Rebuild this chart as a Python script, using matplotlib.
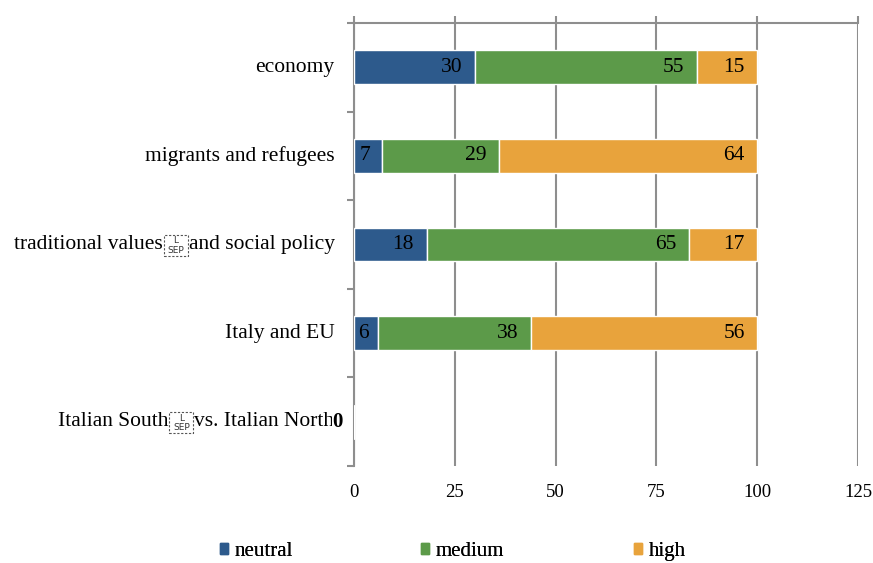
import matplotlib
matplotlib.use("Agg")
import matplotlib.pyplot as plt
from matplotlib.patches import Patch, Rectangle
import numpy as np

plt.rcParams["font.family"] = ["Liberation Serif", "DejaVu Serif"]

# Share of coverage per topic, by intensity level
categories = [
    "economy",
    "migrants and refugees",
    "traditional values\u2028and social policy",
    "Italy and EU",
    "Italian South\u2028vs. Italian North",
]
neutral = [30, 7, 18, 6, 0]
medium = [55, 29, 65, 38, 0]
high = [15, 64, 17, 56, 0]
series_names = ["neutral", "medium", "high"]
x_ticks = [0, 25, 50, 75, 100, 125]

colors = ["#2d5a8c", "#5c9a49", "#e8a33c"]
grid_color = "#8e8e8e"

fig = plt.figure(figsize=(8.73, 5.63), dpi=100)
ax = fig.add_axes([354 / 873, 1 - 466 / 563, 504 / 873, 443 / 563])

y = np.arange(len(categories))
series = [neutral, medium, high]
left = np.zeros(len(categories))
bar_height = 0.38
for vals, name, col in zip(series, series_names, colors):
    vals = np.array(vals, dtype=float)
    ax.barh(y, vals, left=left, height=bar_height, color=col,
            edgecolor="white", linewidth=1.0, label=name, zorder=3)
    for i, (v, l0) in enumerate(zip(vals, left)):
        if v == 0:
            continue
        if v < 10:
            ax.text(l0 + v * 0.4, i, f"{v:g}", ha="center", va="center",
                    fontsize=15.5, zorder=4)
        else:
            ax.annotate(f"{v:g}", xy=(l0 + v, i), xytext=(-9, 0),
                        textcoords="offset points", ha="right", va="center",
                        fontsize=15.5, zorder=4)
    left += vals

# zero value of the last topic sits next to the axis
ax.annotate(f"{neutral[-1]:g}", xy=(0, 4), xytext=(-12, 0),
            textcoords="offset points", ha="center", va="center",
            fontsize=15, fontweight="bold", zorder=6,
            bbox=dict(boxstyle="square,pad=0.0", fc="white", ec="none"),
            annotation_clip=False)

ax.set_xlim(0, 125)
ax.set_ylim(len(categories) - 0.5, -0.5)
ax.set_xticks(x_ticks)
ax.set_xticklabels([str(t) for t in x_ticks], fontsize=13.5)
ax.tick_params(axis="x", top=True, bottom=False, labeltop=False,
               labelbottom=True, direction="out", length=5, width=1.5,
               color=grid_color, pad=8)
ax.set_yticks(y)
ax.set_yticklabels([])
ax.tick_params(axis="y", which="major", length=0)
ax.set_yticks(np.arange(-0.5, len(categories)), minor=True)
ax.tick_params(axis="y", which="minor", direction="out", length=5,
               width=1.5, color=grid_color)

ax.grid(axis="x", color=grid_color, linewidth=1.5)
ax.set_axisbelow(True)
for side in ["right", "bottom"]:
    ax.spines[side].set_visible(False)
for side in ["left", "top"]:
    ax.spines[side].set_color(grid_color)
    ax.spines[side].set_linewidth(1.5)

# category labels; the separator character is shown as a small marker box
fig.canvas.draw()
renderer = fig.canvas.get_renderer()
to_fig = fig.transFigure.inverted()
for i, label in enumerate(categories):
    parts = label.split("\u2028")
    t = ax.annotate(parts[-1], xy=(0, i), xycoords=ax.get_yaxis_transform(),
                    xytext=(-14, 0), textcoords="offset points",
                    ha="right", va="center", fontsize=15.5,
                    annotation_clip=False)
    for prev in reversed(parts[:-1]):
        fig.canvas.draw()
        bb = t.get_window_extent(renderer)
        box_w, box_h = 24, 21
        x1 = bb.x0 - 1
        x0 = x1 - box_w
        yc = (bb.y0 + bb.y1) / 2 - 1
        (fx0, fy0) = to_fig.transform((x0, yc - box_h / 2))
        (fx1, fy1) = to_fig.transform((x1, yc + box_h / 2))
        fig.patches.append(Rectangle((fx0, fy0), fx1 - fx0, fy1 - fy0,
                                     transform=fig.transFigure, fill=False,
                                     ec="#555555", lw=0.8, ls=(0, (2, 1.5))))
        fig.text((fx0 + fx1) / 2, fy0 + (fy1 - fy0) * 0.72, "L",
                 ha="center", va="center", fontsize=6.5,
                 family="DejaVu Sans", color="#333333")
        fig.text((fx0 + fx1) / 2, fy0 + (fy1 - fy0) * 0.27, "SEP",
                 ha="center", va="center", fontsize=6.5,
                 family="DejaVu Sans", color="#333333")
        t = fig.text(fx0 - 1 / 873, (fy0 + fy1) / 2 + 1 / 563, prev,
                     ha="right", va="center", fontsize=15.5)

# legend: one entry per series, spread along the bottom edge
legend_x = [220, 421, 634]
for c, n, lx in zip(colors, series_names, legend_x):
    leg = fig.legend(handles=[Patch(color=c, label=n)], loc="upper left",
                     bbox_to_anchor=(lx / 873, 1 - 542 / 563), frameon=False,
                     fontsize=15, handlelength=0.4, handleheight=0.4,
                     handletextpad=0.3, borderpad=0, borderaxespad=0)
    fig.add_artist(leg)

fig.savefig("out.png", dpi=100)
